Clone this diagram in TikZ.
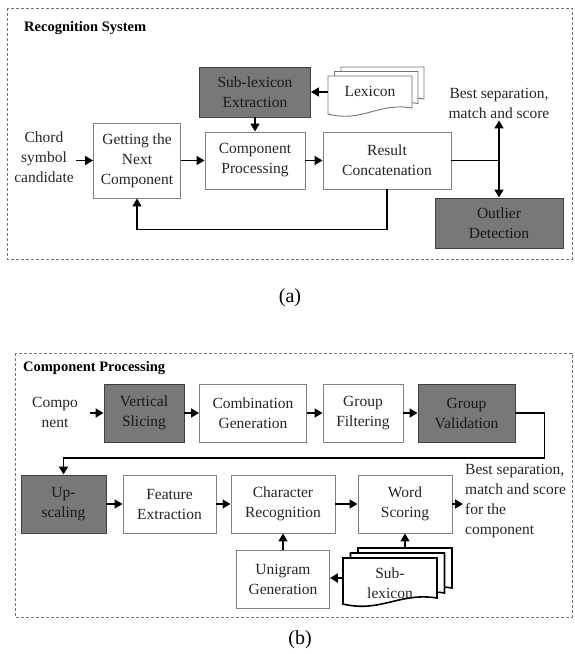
\documentclass[tikz,border=0pt]{standalone}
\usepackage{fontspec}
\setmainfont{Liberation Serif}
\usetikzlibrary{arrows.meta}
\tikzset{
  box/.style={draw=black!50, fill=white, line width=0.9pt, align=center, inner sep=2pt, text=black!85, font=\fontsize{15.5}{20}\selectfont},
  darkbox/.style={box, fill=black!53, draw=black!75, text=black!90},
  lbl/.style={align=center, inner sep=2pt, text=black!85, font=\fontsize{15.5}{20}\selectfont},
  ttl/.style={anchor=west, inner sep=0pt, font=\fontsize{14.5}{16}\selectfont\bfseries},
  sublabel/.style={font=\fontsize{20}{22}\selectfont},
  arr/.style={line width=1.6pt, -{Triangle[length=8pt,width=9pt]}},
  line/.style={line width=1.6pt},
  frame/.style={densely dashed, draw=black!55, line width=0.7pt},
  page/.style={draw=black!55, fill=white, line width=0.9pt},
  boldpage/.style={draw=black, fill=white, line width=1.6pt},
}
% one sheet of a stack: x1,y1,x2,y2,style
\newcommand{\docpage}[5]{%
  \draw[#5] ({#1},{#4-3}) -- ({#1},{#2}) -- ({#3},{#2}) -- ({#3},{#4-9})
    .. controls ({#3-0.4*(#3-#1)},{#4-15}) and ({#1+0.4*(#3-#1)},{#4+6}) .. cycle;}
\begin{document}
\begin{tikzpicture}[x=1pt,y=-1pt]
\useasboundingbox (0,0) rectangle (574,654);

% (a) recognition system
\draw[frame] (7,8) rectangle (572,259);
\node[ttl] (titlea) at (24,28) {Recognition System};
\node[lbl] (chord) at (44,157) {Chord\\symbol\\candidate};
\node[box, minimum width=87pt, minimum height=75pt] (gnc) at (137,160.5) {Getting the\\Next\\Component};
\node[box, minimum width=100pt, minimum height=57pt] (cp) at (255,160.5) {Component\\Processing};
\node[box, minimum width=128pt, minimum height=57pt] (rc) at (387,160.5) {Result\\Concatenation};
\node[darkbox, minimum width=111pt, minimum height=50pt] (sle) at (255,92) {Sub-lexicon\\Extraction};
\node[darkbox, minimum width=128pt, minimum height=50pt] (od) at (499,223) {Outlier\\Detection};
\node[lbl] (besta) at (499,103) {Best separation,\\match and score};
\docpage{341}{67}{424}{108}{page}
\docpage{334.5}{71.5}{418}{112.5}{page}
\docpage{328}{76}{412}{117}{page}
\node[lbl] (lex) at (370,91) {Lexicon};
\coordinate (lexin) at (328,92);
\draw[arr] (chord.east |- gnc.west) -- (gnc.west);
\draw[arr] (gnc) -- (cp);
\draw[arr] (cp) -- (rc);
\draw[arr] (lexin) -- (sle.east);
\draw[arr] (sle) -- (cp);
\draw[line] (rc.east) -- (499,160.5) coordinate (split);
\draw[arr] (split) -- (besta.south);
\draw[arr] (split) -- (od.north);
\draw[arr] (rc.south) -- ++(0,40) -| (gnc.south);
\node[sublabel] (capa) at (290,298) {(a)};

% (b) component processing
\draw[frame] (15,353) rectangle (572,617);
\node[ttl] (titleb) at (23,368) {Component Processing};
\node[lbl] (compo) at (55,412) {Compo\\nent};
\node[darkbox, minimum width=80pt, minimum height=58pt] (vs) at (144,413) {Vertical\\Slicing};
\node[box, minimum width=107pt, minimum height=58pt] (cg) at (253,413) {Combination\\Generation};
\node[box, minimum width=80pt, minimum height=58pt] (gf) at (363,413) {Group\\Filtering};
\node[darkbox, minimum width=97pt, minimum height=58pt] (gv) at (466.5,413) {Group\\Validation};
\node[darkbox, minimum width=85pt, minimum height=58pt] (up) at (63.5,504) {Up-\\scaling};
\node[box, minimum width=93pt, minimum height=58pt] (fe) at (169.5,504) {Feature\\Extraction};
\node[box, minimum width=104pt, minimum height=58pt] (cr) at (283,504) {Character\\Recognition};
\node[box, minimum width=94pt, minimum height=58pt] (ws) at (405,504) {Word\\Scoring};
\node[box, minimum width=93pt, minimum height=58pt] (ug) at (283,579) {Unigram\\Generation};
\node[lbl, align=left, anchor=west] (bestb) at (463,501) {Best separation,\\match and score\\for the\\component};
\docpage{358}{548}{452}{597}{boldpage}
\docpage{350.5}{553}{444.5}{602}{boldpage}
\docpage{343}{558}{437}{607}{boldpage}
\node[lbl] (sublex) at (390,583) {Sub-\\lexicon};
\coordinate (slin) at (343,578);
\coordinate (slout) at (405,548);
\draw[arr] ([xshift=10pt]compo.east |- vs.west) -- (vs.west);
\draw[arr] (vs) -- (cg);
\draw[arr] (cg) -- (gf);
\draw[arr] (gf) -- (gv);
\draw[arr] (gv.east) -- ++(29,0) -- ++(0,45) -| (up.north);
\draw[arr] (up) -- (fe);
\draw[arr] (fe) -- (cr);
\draw[arr] (cr) -- (ws);
\draw[arr] (ws.east) -- (ws.east -| bestb.west);
\draw[arr] (ug) -- (cr);
\draw[arr] (slin) -- (slin -| ug.east);
\draw[arr] (slout) -- (slout |- ws.south);
\node[sublabel] (capb) at (300,640) {(b)};
\end{tikzpicture}
\end{document}
